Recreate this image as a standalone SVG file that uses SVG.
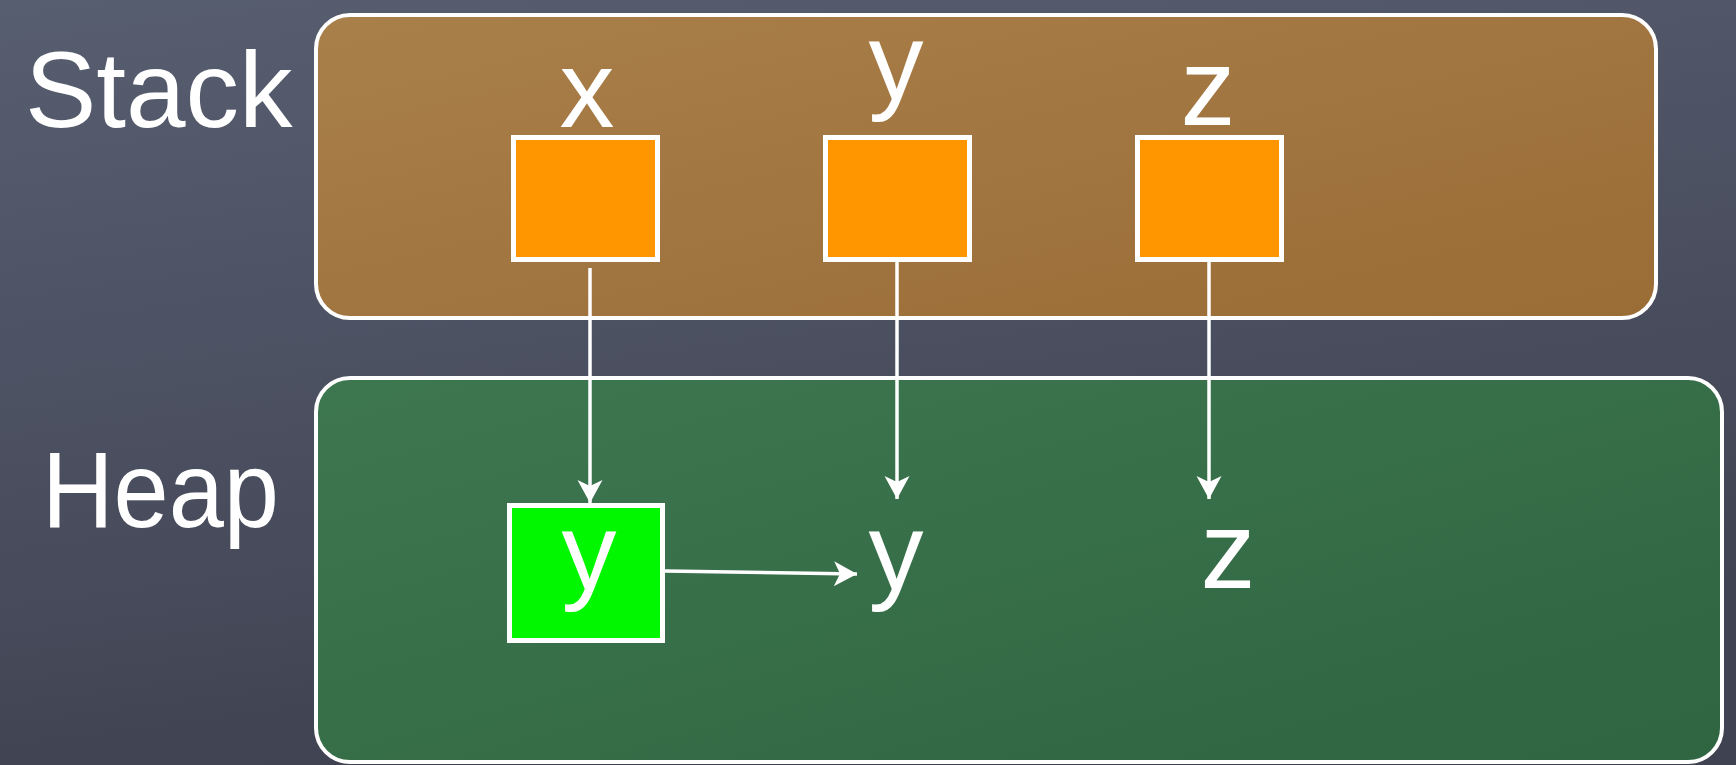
<svg xmlns="http://www.w3.org/2000/svg" width="1736" height="765" viewBox="0 0 1736 765">
<defs>
<linearGradient id="bg" x1="0" y1="0" x2="0.3" y2="1">
<stop offset="0" stop-color="#575e6f"/>
<stop offset="0.5" stop-color="#4c5162"/>
<stop offset="1" stop-color="#3f4250"/>
</linearGradient>
<linearGradient id="brown" x1="0" y1="0" x2="1" y2="1">
<stop offset="0" stop-color="#a97f4a"/>
<stop offset="1" stop-color="#9a6c36"/>
</linearGradient>
<linearGradient id="green" x1="0" y1="0" x2="1" y2="1">
<stop offset="0" stop-color="#3d7750"/>
<stop offset="1" stop-color="#2f6541"/>
</linearGradient>
<marker id="ah" markerUnits="userSpaceOnUse" markerWidth="28" markerHeight="28" viewBox="0 -14 26 28" refX="23" refY="0" orient="auto">
<path d="M0,-12.5 L23,0 L0,12.5 L6,0 Z" fill="#ffffff"/>
</marker>
</defs>
<style>
.lbl{font-family:"Liberation Sans",Arial,sans-serif;fill:#ffffff;}
.big{font-size:107px;}
.var{font-size:110px;text-anchor:middle;}
.region{stroke:#ffffff;stroke-width:4;}
.slot{fill:#ff9600;stroke:#ffffff;stroke-width:5;}
.obj{fill:#00f700;stroke:#ffffff;stroke-width:5;}
.conn{stroke:#ffffff;stroke-width:3.5;fill:none;marker-end:url(#ah);}
</style>
<rect x="0" y="0" width="1736" height="765" fill="url(#bg)"/>

<g id="stack-region">
<rect class="region" x="316" y="15" width="1340" height="303" rx="34" ry="34" fill="url(#brown)"/>
<text class="lbl big" x="25" y="127">Stack</text>
</g>
<g id="heap-region">
<rect class="region" x="316" y="378" width="1406" height="384" rx="34" ry="34" fill="url(#green)"/>
<text class="lbl big" x="42" y="527" font-size="104" textLength="237" lengthAdjust="spacingAndGlyphs">Heap</text>
</g>

<g id="var-x">
<rect class="slot" x="513.5" y="137.5" width="144" height="122"/>
<text class="lbl var" x="587" y="127">x</text>
</g>
<g id="var-y">
<rect class="slot" x="825.5" y="137.5" width="144" height="122"/>
<text class="lbl var" x="896" y="99">y</text>
</g>
<g id="var-z">
<rect class="slot" x="1137.5" y="137.5" width="144" height="122"/>
<text class="lbl var" x="1208" y="125">z</text>
</g>

<g id="heap-obj-y-box">
<rect class="obj" x="509.5" y="505.5" width="153" height="135"/>
<text class="lbl var" x="589" y="589">y</text>
</g>
<g id="heap-y">
<text class="lbl var" x="896" y="589">y</text>
</g>
<g id="heap-z">
<text class="lbl var" x="1228" y="588">z</text>
</g>

<g id="connectors">
<line class="conn" x1="590" y1="268" x2="590" y2="503"/>
<line class="conn" x1="897" y1="262" x2="897" y2="499"/>
<line class="conn" x1="1209" y1="262" x2="1209" y2="499"/>
<line class="conn" x1="665" y1="571" x2="857" y2="574" stroke-width="5"/>
</g>
</svg>
